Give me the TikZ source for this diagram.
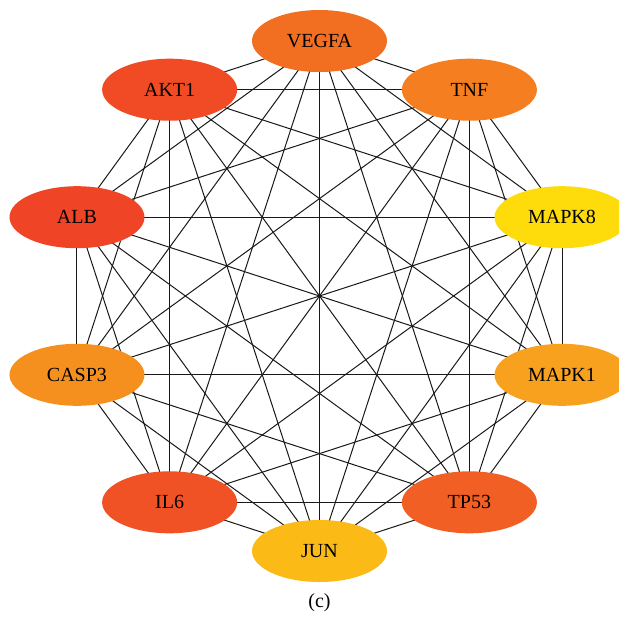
\documentclass[tikz,border=0pt]{standalone}
\usepackage{fontspec}
\setmainfont{Liberation Serif}
\usetikzlibrary{shapes.geometric,backgrounds}
\definecolor{cVEGFA}{HTML}{F26F22}
\definecolor{cTNF}{HTML}{F47E20}
\definecolor{cMAPK8}{HTML}{FEDB0B}
\definecolor{cMAPK1}{HTML}{F7A11F}
\definecolor{cTP53}{HTML}{F25F24}
\definecolor{cJUN}{HTML}{FBBA16}
\definecolor{cIL6}{HTML}{F05225}
\definecolor{cCASP3}{HTML}{F5901F}
\definecolor{cALB}{HTML}{EF4426}
\definecolor{cAKT1}{HTML}{F04B24}
\begin{document}
\begin{tikzpicture}[x=0.5pt,y=-0.5pt,
    gene/.style={ellipse,inner sep=0pt,minimum width=67.5pt,minimum height=31pt,
      font=\fontsize{10}{12}\selectfont},
    link/.style={line width=0.5pt,draw=black!90}]
  \useasboundingbox (0,0) rectangle (619,616);
  % hub genes on a circle
  \foreach \name/\ang in {VEGFA/90,TNF/54,MAPK8/18,MAPK1/-18,TP53/-54,
      JUN/-90,IL6/-126,CASP3/-162,ALB/162,AKT1/126}
    \node[gene,fill=c\name] (\name) at ({319.5+255*cos(\ang)},{296-255*sin(\ang)}) {\name};
  % every pair is linked
  \begin{pgfonlayer}{background}
    \foreach \a [count=\i] in {VEGFA,TNF,MAPK8,MAPK1,TP53,JUN,IL6,CASP3,ALB,AKT1}
      \foreach \b [count=\j] in {VEGFA,TNF,MAPK8,MAPK1,TP53,JUN,IL6,CASP3,ALB,AKT1}
        {\ifnum\j>\i \draw[link] (\a.center) -- (\b.center); \fi}
  \end{pgfonlayer}
  \node[font=\fontsize{10}{12}\selectfont] (cap) at (319.5,603) {(c)};
\end{tikzpicture}
\end{document}
